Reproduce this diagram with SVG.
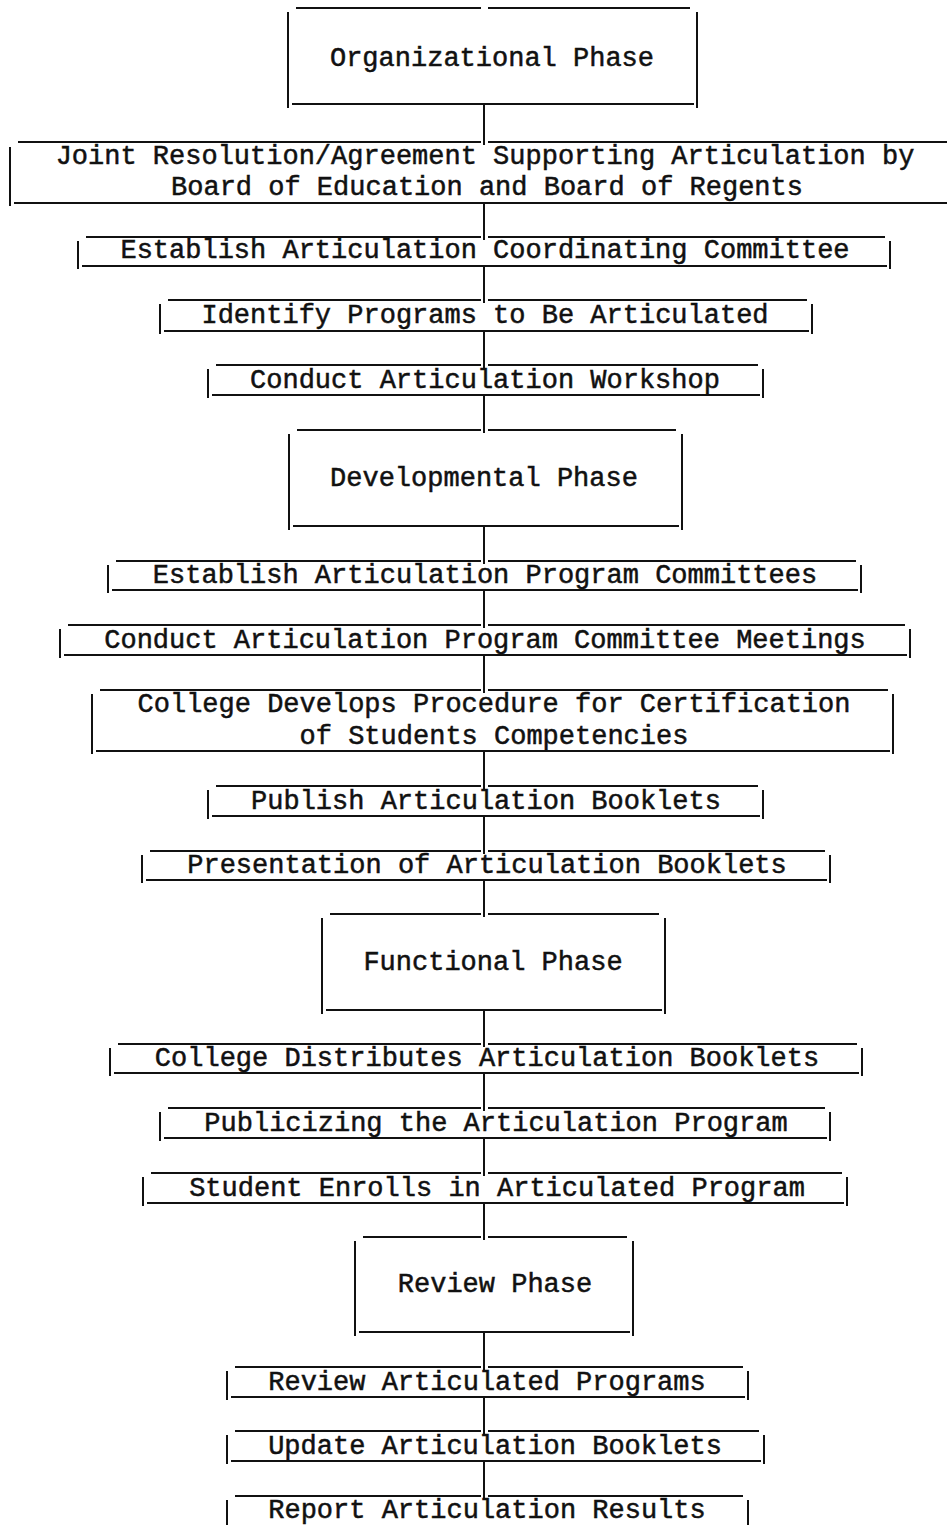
<svg xmlns="http://www.w3.org/2000/svg" width="947" height="1525" viewBox="0 0 947 1525">
<style>
.bg{fill:#ffffff}
.ln{stroke:#111;stroke-width:2;fill:none}
.tx{font-family:"Liberation Mono","DejaVu Sans Mono",monospace;font-size:27px;fill:#111;stroke:#111;stroke-width:0.5;text-anchor:middle}
</style>
<rect class="bg" x="0" y="0" width="947" height="1525"/>
<g id="connectors" class="ln">
<path d="M484 104V145M484 203V240M484 266V303M484 331V368M484 395V433M484 526V564M484 590V628M484 655V693M484 751V789M484 816V854M484 880V917M484 1010V1047M484 1073V1111M484 1138V1176M484 1203V1240M484 1332V1370M484 1397V1434M484 1461V1499"/>
</g>
<g id="n1"><path class="ln" d="M296 8H481M488 8H690M288 12V108M697 12V108M292 104H694"/><text class="tx" x="492" y="66">Organizational Phase</text></g>
<g id="n2"><path class="ln" d="M18 142H481M488 142H947M10 147V206M14 203H947"/><text class="tx" x="485" y="164">Joint Resolution/Agreement Supporting Articulation by</text><text class="tx" x="487" y="195">Board of Education and Board of Regents</text></g>
<g id="n3"><path class="ln" d="M86 237H481M488 237H885M78 241V269M890 241V269M82 266H887"/><text class="tx" x="485" y="258">Establish Articulation Coordinating Committee</text></g>
<g id="n4"><path class="ln" d="M168 300H481M488 300H807M160 304V334M812 304V334M164 331H809"/><text class="tx" x="485" y="323">Identify Programs to Be Articulated</text></g>
<g id="n5"><path class="ln" d="M216 365H481M488 365H758M208 369V398M763 369V398M212 395H760"/><text class="tx" x="485" y="388">Conduct Articulation Workshop</text></g>
<g id="n6"><path class="ln" d="M297 430H481M488 430H676M289 434V530M682 434V530M293 526H679"/><text class="tx" x="484" y="486">Developmental Phase</text></g>
<g id="n7"><path class="ln" d="M116 561H481M488 561H856M108 565V593M861 565V593M112 590H858"/><text class="tx" x="485" y="583">Establish Articulation Program Committees</text></g>
<g id="n8"><path class="ln" d="M68 625H481M488 625H905M60 629V658M910 629V658M64 655H907"/><text class="tx" x="485" y="648">Conduct Articulation Program Committee Meetings</text></g>
<g id="n9"><path class="ln" d="M100 690H481M488 690H888M92 694V754M893 694V754M96 751H890"/><text class="tx" x="494" y="712">College Develops Procedure for Certification</text><text class="tx" x="494" y="744">of Students Competencies</text></g>
<g id="n10"><path class="ln" d="M216 786H481M488 786H758M208 790V819M763 790V819M212 816H760"/><text class="tx" x="486" y="809">Publish Articulation Booklets</text></g>
<g id="n11"><path class="ln" d="M150 851H481M488 851H825M142 855V883M830 855V883M146 880H827"/><text class="tx" x="487" y="873">Presentation of Articulation Booklets</text></g>
<g id="n12"><path class="ln" d="M330 914H481M488 914H659M322 918V1014M665 918V1014M326 1010H662"/><text class="tx" x="493" y="970">Functional Phase</text></g>
<g id="n13"><path class="ln" d="M118 1044H481M488 1044H857M110 1048V1076M862 1048V1076M114 1073H859"/><text class="tx" x="487" y="1066">College Distributes Articulation Booklets</text></g>
<g id="n14"><path class="ln" d="M168 1108H481M488 1108H825M160 1112V1141M830 1112V1141M164 1138H827"/><text class="tx" x="496" y="1131">Publicizing the Articulation Program</text></g>
<g id="n15"><path class="ln" d="M151 1173H481M488 1173H842M143 1177V1206M847 1177V1206M147 1203H844"/><text class="tx" x="497" y="1196">Student Enrolls in Articulated Program</text></g>
<g id="n16"><path class="ln" d="M363 1237H481M488 1237H627M355 1241V1336M633 1241V1336M359 1332H630"/><text class="tx" x="495" y="1292">Review Phase</text></g>
<g id="n17"><path class="ln" d="M235 1367H481M488 1367H743M227 1371V1400M748 1371V1400M231 1397H745"/><text class="tx" x="487" y="1390">Review Articulated Programs</text></g>
<g id="n18"><path class="ln" d="M235 1431H481M488 1431H759M227 1435V1464M764 1435V1464M231 1461H761"/><text class="tx" x="495" y="1454">Update Articulation Booklets</text></g>
<g id="n19"><path class="ln" d="M235 1496H481M488 1496H743M227 1500V1525M748 1500V1525"/><text class="tx" x="487" y="1518">Report Articulation Results</text></g>
</svg>
